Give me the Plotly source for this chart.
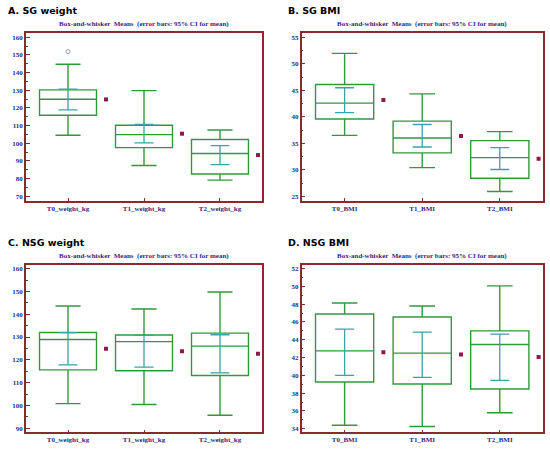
import plotly.graph_objects as go

# ---------------- data ----------------
weight_cats = ["T0_weight_kg", "T1_weight_kg", "T2_weight_kg"]
bmi_cats = ["T0_BMI", "T1_BMI", "T2_BMI"]

# A. SG weight
a_low = [104.5, 87.4, 79.1]
a_q1 = [115.8, 97.5, 82.6]
a_med = [124.9, 104.9, 94.2]
a_q3 = [130.2, 110.2, 102.1]
a_high = [144.7, 129.8, 107.5]
a_mean = [124.8, 105.4, 93.3]
a_ci_lo = [118.9, 100.2, 87.9]
a_ci_hi = [130.6, 110.6, 98.7]
a_outlier_x = [0]
a_outlier_y = [151.9]

# B. SG BMI
b_low = [36.5, 30.4, 25.9]
b_q1 = [39.6, 33.2, 28.4]
b_med = [42.6, 36.0, 32.3]
b_q3 = [46.1, 39.2, 35.5]
b_high = [52.0, 44.35, 37.2]
b_mean = [43.2, 36.4, 32.1]
b_ci_lo = [40.8, 34.3, 30.05]
b_ci_hi = [45.5, 38.55, 34.2]

# C. NSG weight
c_low = [100.8, 100.4, 95.7]
c_q1 = [115.6, 115.2, 113.1]
c_med = [128.9, 128.0, 126.0]
c_q3 = [132.0, 130.9, 131.7]
c_high = [143.6, 142.3, 149.75]
c_mean = [124.9, 123.8, 122.7]
c_ci_lo = [117.8, 116.8, 114.3]
c_ci_hi = [131.9, 130.7, 131.0]

# D. NSG BMI
d_low = [34.4, 34.26, 35.8]
d_q1 = [39.26, 39.03, 38.47]
d_med = [42.75, 42.5, 43.47]
d_q3 = [46.9, 46.55, 45.0]
d_high = [48.13, 47.8, 50.05]
d_mean = [42.6, 42.33, 42.05]
d_ci_lo = [40.0, 39.78, 39.44]
d_ci_hi = [45.2, 44.86, 44.63]

panel_titles = ["A. SG weight", "B. SG BMI", "C. NSG weight", "D. NSG BMI"]
sub_title = "Box-and-whisker  Means  (error bars: 95% CI for mean)"

# ---------------- style ----------------
W, H = 550, 449
GREEN = "#2f9a3c"
TEAL = "#3aa3a6"
MAROON = "#8e1a4c"
FRAME = "#8b2a2a"
NAVY = "#2b2b86"
SERIF = "Liberation Serif"

panels = [
    dict(cats=weight_cats, low=a_low, q1=a_q1, med=a_med, q3=a_q3, high=a_high,
         mean=a_mean, lo=a_ci_lo, hi=a_ci_hi, yr=[67.3, 162.4], dt=10, t0=70,
         px=(26, 262), py=(33, 201), ox=a_outlier_x, oy=a_outlier_y),
    dict(cats=bmi_cats, low=b_low, q1=b_q1, med=b_med, q3=b_q3, high=b_high,
         mean=b_mean, lo=b_ci_lo, hi=b_ci_hi, yr=[24.1, 55.9], dt=5, t0=25,
         px=(301.7, 542.7), py=(32.7, 201), ox=[], oy=[]),
    dict(cats=weight_cats, low=c_low, q1=c_q1, med=c_med, q3=c_q3, high=c_high,
         mean=c_mean, lo=c_ci_lo, hi=c_ci_hi, yr=[88.2, 161.6], dt=10, t0=90,
         px=(26, 262), py=(265, 432.3), ox=[], oy=[]),
    dict(cats=bmi_cats, low=d_low, q1=d_q1, med=d_med, q3=d_q3, high=d_high,
         mean=d_mean, lo=d_ci_lo, hi=d_ci_hi, yr=[33.6, 52.4], dt=2, t0=34,
         px=(301.7, 542.7), py=(265, 432.3), ox=[], oy=[]),
]

fig = go.Figure()
annotations = []
pos = [0, 1, 2]

for i, p in enumerate(panels):
    n = "" if i == 0 else str(i + 1)
    xa, ya = "x" + n, "y" + n
    fig.add_trace(go.Box(
        x=pos, q1=p["q1"], median=p["med"], q3=p["q3"],
        lowerfence=p["low"], upperfence=p["high"],
        width=0.75, whiskerwidth=0.44,
        line=dict(color=GREEN, width=1.4), fillcolor="rgba(0,0,0,0)",
        boxpoints=False, hoverinfo="skip", xaxis=xa, yaxis=ya, showlegend=False))
    fig.add_trace(go.Scatter(
        x=pos, y=p["mean"], mode="markers",
        marker=dict(size=1, color="rgba(0,0,0,0)"),
        error_y=dict(type="data", symmetric=False,
                     array=[h - m for h, m in zip(p["hi"], p["mean"])],
                     arrayminus=[m - l for m, l in zip(p["mean"], p["lo"])],
                     color=TEAL, thickness=1.3, width=9.5),
        xaxis=xa, yaxis=ya, showlegend=False, hoverinfo="skip"))
    fig.add_trace(go.Scatter(
        x=[v + 0.5 for v in pos], y=p["mean"], mode="markers",
        marker=dict(symbol="square", size=4, color=MAROON),
        xaxis=xa, yaxis=ya, showlegend=False, hoverinfo="skip"))
    if p["ox"]:
        fig.add_trace(go.Scatter(
            x=p["ox"], y=p["oy"], mode="markers",
            marker=dict(symbol="circle-open", size=4, color="#9a9ab8", line=dict(width=1)),
            xaxis=xa, yaxis=ya, showlegend=False, hoverinfo="skip"))

    x0, x1 = p["px"]
    y0, y1 = p["py"]
    xd = [x0 / W, x1 / W]
    yd = [1 - y1 / H, 1 - y0 / H]
    xkey = "xaxis" + n
    ykey = "yaxis" + n
    fig.layout[xkey] = dict(
        domain=xd, range=[-0.553, 2.553], anchor=ya,
        tickmode="array", tickvals=pos, ticktext=p["cats"],
        ticks="inside", ticklen=3, tickwidth=1, tickcolor=FRAME,
        showline=True, mirror=True, linecolor=FRAME, linewidth=1.5,
        showgrid=False, zeroline=False,
        tickfont=dict(family=SERIF, size=7, color=NAVY, weight="bold"))
    fig.layout[ykey] = dict(
        domain=yd, range=p["yr"], anchor=xa,
        tickmode="linear", tick0=p["t0"], dtick=p["dt"],
        ticks="inside", ticklen=4, tickwidth=1, tickcolor=FRAME,
        minor=dict(ticks="inside", ticklen=2, tickcolor=FRAME, dtick=p["dt"] / 2,
                   tick0=p["t0"], showgrid=False),
        showline=True, mirror=True, linecolor=FRAME, linewidth=1.5,
        showgrid=False, zeroline=False,
        tickfont=dict(family=SERIF, size=7, color=NAVY, weight="bold"))
    annotations.append(dict(
        text=sub_title, x=(xd[0] + xd[1]) / 2, y=yd[1], xref="paper", yref="paper",
        xanchor="center", yanchor="bottom", yshift=3, showarrow=False,
        font=dict(family=SERIF, size=7, color=NAVY, weight="bold")))

title_pos = [(6, 10), (286, 10), (6, 242), (286, 242)]
for t, (tx, ty) in zip(panel_titles, title_pos):
    annotations.append(dict(
        text=t, x=tx / W, y=1 - ty / H, xref="paper", yref="paper",
        xanchor="left", yanchor="middle", showarrow=False,
        font=dict(family="DejaVu Sans", size=9.5, color="black", weight="bold")))

fig.update_layout(
    width=W, height=H, margin=dict(l=0, r=0, t=0, b=0),
    paper_bgcolor="white", plot_bgcolor="white",
    annotations=annotations, boxmode="overlay")

fig.write_html("out.html", config={"displayModeBar": False},
               post_script="document.body.style.margin='0';document.body.style.overflow='hidden';")
